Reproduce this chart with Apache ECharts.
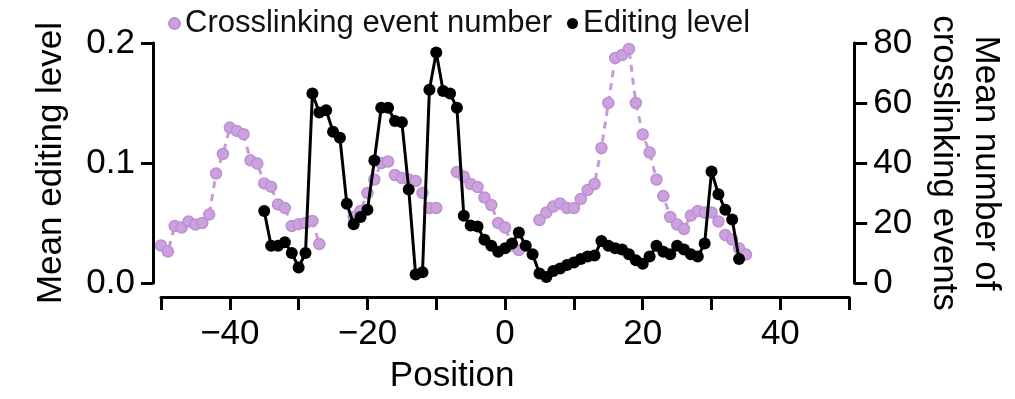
<!DOCTYPE html>
<html>
<head>
<meta charset="utf-8">
<script src="https://cdn.jsdelivr.net/npm/echarts@6/dist/echarts.min.js"></script>
<style>html,body{margin:0;padding:0;background:#fff}#c{width:1015px;height:399px}</style>
</head>
<body>
<div id="c"></div>
<script>
// Position along the sequence
const positions = [
  -50,-49,-48,-47,-46,-45,-44,-43,-42,-41,
  -40,-39,-38,-37,-36,-35,-34,-33,-32,-31,
  -30,-29,-28,-27,-26,-25,-24,-23,-22,-21,
  -20,-19,-18,-17,-16,-15,-14,-13,-12,-11,
  -10,-9,-8,-7,-6,-5,-4,-3,-2,-1,
  0,1,2,3,4,5,6,7,8,9,
  10,11,12,13,14,15,16,17,18,19,
  20,21,22,23,24,25,26,27,28,29,
  30,31,32,33,34,35
];
// Mean number of crosslinking events (right axis)
const crosslinkEvents = [
  12.5,10.5,19,18.5,20.5,19.5,20,22.8,36.5,43,
  51.8,50.7,49.6,40.9,39.8,33.2,32.1,26.2,25,19,
  19.6,20,20.7,13,null,null,null,null,22,24,
  30,34.5,40,40.5,36,35,34.5,34,30,25,
  25,null,null,37,35.5,33,32,28.5,26,20,
  18.5,12.5,11,null,null,21,23.5,25.5,26.5,25,
  25,28,31,33,45,60,75,76,78,60,
  49.5,43.5,34.5,29,22,19.5,18,22.5,24,23.5,
  23.5,20.5,16,14.5,11.5,9.5
];
// Mean editing level (left axis)
const editingLevel = [
  null,null,null,null,null,null,null,null,null,null,
  null,null,null,null,null,0.060,0.031,0.031,0.034,0.025,
  0.013,0.025,0.158,0.142,0.144,0.126,0.121,0.066,0.049,0.055,
  0.061,0.102,0.146,0.146,0.135,0.134,0.078,0.007,0.009,0.161,
  0.192,0.160,0.158,0.146,0.056,0.048,0.047,0.036,0.031,0.026,
  0.029,0.033,0.042,0.031,0.024,0.008,0.005,0.010,0.012,0.015,
  0.017,0.020,0.022,0.023,0.035,0.031,0.029,0.028,0.024,0.019,
  0.016,0.022,0.031,0.026,0.024,0.031,0.028,0.024,0.022,0.033,
  0.093,0.074,0.061,0.053,0.020,null
];
const xTickLabels = {'-40':'\u221240','-20':'\u221220','0':'0','20':'20','40':'40'};
const leftTickLabels = {'0':'0.0','0.1':'0.1','0.2':'0.2'};
const seriesNames = ['Crosslinking event number','Editing level'];

const FONT = 'Liberation Sans, Arial, Helvetica, sans-serif';
const crossData = positions.map((p,i) => [p, crosslinkEvents[i]]);
const editData = positions.map((p,i) => [p, editingLevel[i]]);

const chart = echarts.init(document.getElementById('c'), null, {renderer:'canvas'});
chart.setOption({
  animation:false,
  backgroundColor:'#ffffff',
  textStyle:{fontFamily:FONT,color:'#000'},
  grid:{left:161,right:165,top:43,bottom:110,containLabel:false},
  legend:{
    data:[{name:seriesNames[0],icon:'circle'},{name:seriesNames[1],icon:'circle'}],
    left:163, top:3, itemWidth:11, itemHeight:11, itemGap:15,
    textStyle:{fontSize:31,color:'#111',fontFamily:FONT}
  },
  xAxis:{
    type:'value', min:-50, max:50, interval:10, offset:14,
    axisLine:{show:true,onZero:false,lineStyle:{color:'#000',width:3}},
    axisTick:{show:true,length:13,lineStyle:{color:'#000',width:3}},
    splitLine:{show:false},
    axisLabel:{fontSize:35,color:'#000',margin:20,fontFamily:FONT,
      formatter:v => (xTickLabels[String(v)] !== undefined ? xTickLabels[String(v)] : '')},
    name:'Position', nameLocation:'middle', nameGap:62,
    nameTextStyle:{fontSize:35,color:'#000',fontFamily:FONT,padding:[0,106,0,0]}
  },
  yAxis:[{
    type:'value', position:'left', min:0, max:0.2, interval:0.1, offset:8,
    axisLine:{show:true,onZero:false,lineStyle:{color:'#000',width:3}},
    axisTick:{show:true,length:12,lineStyle:{color:'#000',width:3}},
    splitLine:{show:false},
    axisLabel:{fontSize:35,color:'#000',margin:18,fontFamily:FONT,
      formatter:v => leftTickLabels[String(+v.toFixed(1))] || v.toFixed(1)},
    name:'Mean editing level', nameLocation:'middle', nameRotate:90, nameGap:84,
    nameTextStyle:{fontSize:35,color:'#000',fontFamily:FONT}
  },{
    type:'value', position:'right', min:0, max:80, interval:20, offset:5,
    axisLine:{show:true,onZero:false,lineStyle:{color:'#000',width:3}},
    axisTick:{show:true,length:13,lineStyle:{color:'#000',width:3}},
    splitLine:{show:false},
    axisLabel:{fontSize:35,color:'#000',margin:19,fontFamily:FONT},
    name:'Mean number of\ncrosslinking events', nameLocation:'middle', nameRotate:-90, nameGap:66,
    nameTextStyle:{fontSize:35,lineHeight:42,color:'#000',fontFamily:FONT}
  }],
  series:[{
    name:seriesNames[0], type:'line', yAxisIndex:1, data:crossData,
    symbol:'circle', symbolSize:11, connectNulls:false,
    itemStyle:{color:'#cba2dd',borderColor:'#bd8fd3',borderWidth:1.5},
    lineStyle:{color:'#c49ad8',width:3,type:[7,6]},
    z:2
  },{
    name:seriesNames[1], type:'line', yAxisIndex:0, data:editData,
    symbol:'circle', symbolSize:12, connectNulls:false,
    itemStyle:{color:'#000',borderColor:'#000',borderWidth:0},
    lineStyle:{color:'#000',width:3},
    z:3
  }]
});
</script>
</body>
</html>
